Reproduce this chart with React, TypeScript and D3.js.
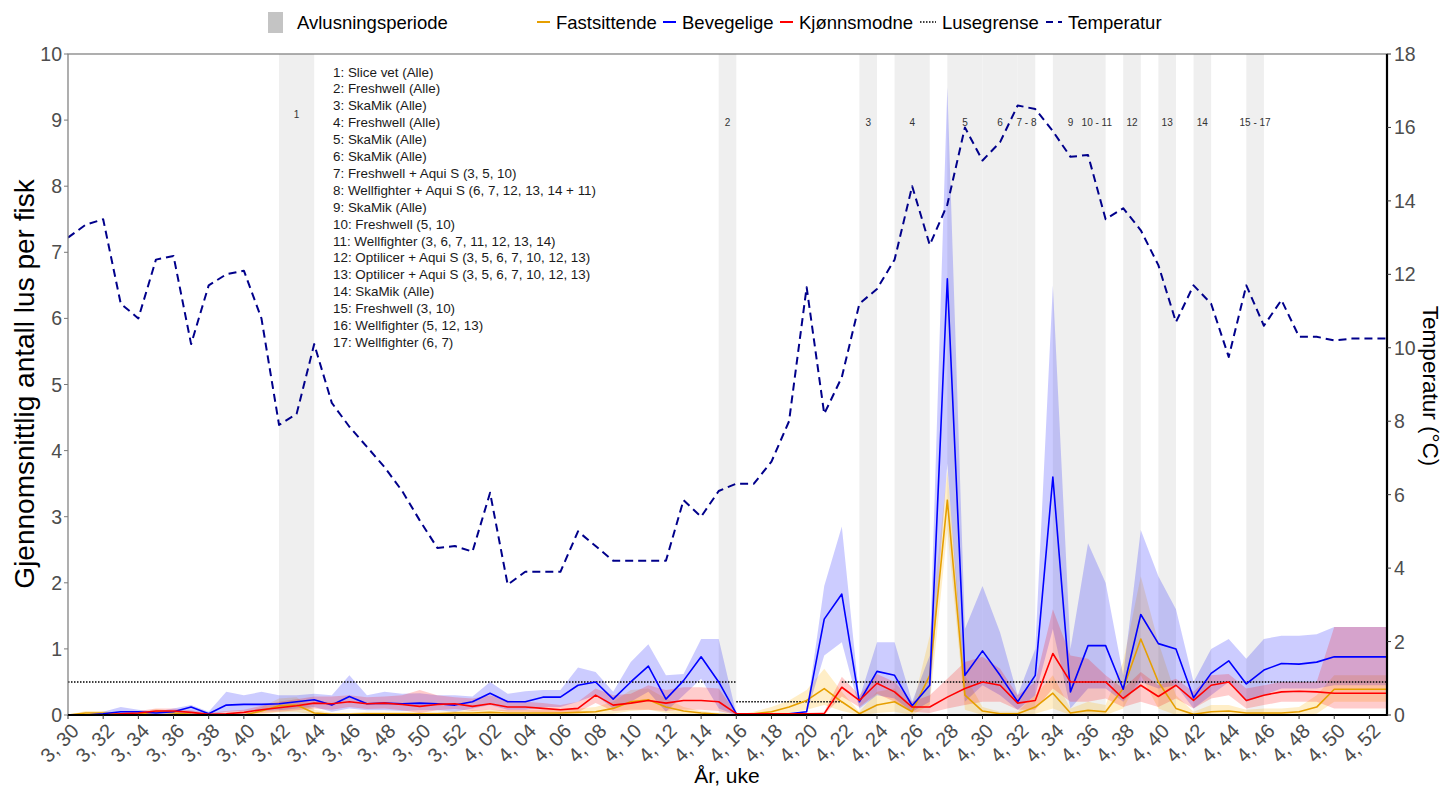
import React from "react";
import * as d3 from "d3";

// ---------- DATA ----------
const weeks: string[] = [
  "3, 30","3, 31","3, 32","3, 33","3, 34","3, 35","3, 36","3, 37","3, 38","3, 39","3, 40","3, 41","3, 42","3, 43","3, 44","3, 45","3, 46","3, 47","3, 48","3, 49","3, 50","3, 51","3, 52",
  "4, 01","4, 02","4, 03","4, 04","4, 05","4, 06","4, 07","4, 08","4, 09","4, 10","4, 11","4, 12","4, 13","4, 14","4, 15","4, 16","4, 17","4, 18","4, 19","4, 20","4, 21","4, 22","4, 23","4, 24","4, 25","4, 26",
  "4, 27","4, 28","4, 29","4, 30","4, 31","4, 32","4, 33","4, 34","4, 35","4, 36","4, 37","4, 38","4, 39","4, 40","4, 41","4, 42","4, 43","4, 44","4, 45","4, 46","4, 47","4, 48","4, 49","4, 50","4, 51","4, 52","5, 01"
];

const tickLabels: string[] = [
  "3, 30","3, 32","3, 34","3, 36","3, 38","3, 40","3, 42","3, 44","3, 46","3, 48","3, 50","3, 52",
  "4, 02","4, 04","4, 06","4, 08","4, 10","4, 12","4, 14","4, 16","4, 18","4, 20","4, 22","4, 24","4, 26",
  "4, 28","4, 30","4, 32","4, 34","4, 36","4, 38","4, 40","4, 42","4, 44","4, 46","4, 48","4, 50","4, 52"
];

const temperatur: number[] = [
  13.0, 13.35, 13.5, 11.2, 10.8, 12.4, 12.5, 10.1, 11.7, 12.0, 12.1, 10.8, 7.9, 8.2, 10.1, 8.5, 7.85, 7.3, 6.75, 6.1, 5.3, 4.55, 4.6,
  4.45, 6.05, 3.55, 3.9, 3.9, 3.9, 5.0, 4.6, 4.2, 4.2, 4.2, 4.2, 5.85, 5.4, 6.1, 6.3, 6.3, 6.9, 8.0, 11.65, 8.2, 9.2, 11.2, 11.6, 12.4,
  14.4, 12.8, 13.9, 16.0, 15.1, 15.6, 16.6, 16.5, 15.9, 15.2, 15.25, 13.5, 13.8, 13.2, 12.25, 10.7, 11.7, 11.2, 9.75, 11.7, 10.6, 11.3,
  10.3, 10.3, 10.2, 10.25, 10.25, 10.25
];

const bevegelige: number[] = [
  0, 0, 0.02, 0.05, 0.05, 0.03, 0.05, 0.12, 0.02, 0.15, 0.16, 0.16, 0.17, 0.2, 0.23, 0.15, 0.28, 0.17, 0.18, 0.17, 0.18, 0.17, 0.15,
  0.2, 0.33, 0.2, 0.2, 0.27, 0.27, 0.45, 0.5, 0.24, 0.5, 0.74, 0.24, 0.52, 0.88, 0.5, 0.02, 0.02, 0.02, 0.02, 0.05, 1.45, 1.83, 0.2,
  0.66, 0.6, 0.14, 0.45, 6.6, 0.6, 0.97, 0.6, 0.2, 0.6, 3.6, 0.35, 1.05, 1.05, 0.39, 1.52, 1.08, 1.0, 0.26, 0.63, 0.82, 0.47, 0.68,
  0.78, 0.77, 0.8, 0.88, 0.88, 0.88, 0.88
];
const bevegeligeHi: number[] = [
  0, 0.01, 0.05, 0.12, 0.08, 0.05, 0.1, 0.15, 0.05, 0.35, 0.3, 0.35, 0.3, 0.3, 0.32, 0.3, 0.6, 0.3, 0.35, 0.32, 0.33, 0.3, 0.3,
  0.28, 0.5, 0.32, 0.36, 0.38, 0.38, 0.72, 0.65, 0.35, 0.8, 1.07, 0.6, 0.62, 1.15, 1.15, 0.02, 0.02, 0.02, 0.02, 0.06, 1.95, 2.85, 0.25,
  1.1, 1.1, 0.2, 0.9, 9.5, 1.3, 1.95, 1.25, 0.3, 1.0, 6.5, 1.0, 2.6, 2.0, 0.6, 2.8, 2.1, 1.6, 0.5, 1.0, 1.15, 0.85, 1.15,
  1.2, 1.2, 1.22, 1.33, 1.33, 1.33, 1.33
];
const bevegeligeLo: number[] = [
  0, 0, 0, 0, 0, 0, 0, 0, 0, 0.05, 0.06, 0.06, 0.07, 0.1, 0.12, 0.05, 0.1, 0.07, 0.07, 0.06, 0.07, 0.07, 0.05,
  0.1, 0.15, 0.08, 0.08, 0.12, 0.12, 0.2, 0.3, 0.1, 0.2, 0.35, 0.05, 0.3, 0.55, 0.1, 0, 0, 0, 0, 0.02, 0.9, 1.1, 0.1,
  0.3, 0.25, 0.05, 0.2, 3.8, 0.2, 0.45, 0.3, 0.08, 0.3, 1.3, 0.1, 0.4, 0.4, 0.2, 0.5, 0.4, 0.45, 0.1, 0.3, 0.5, 0.2, 0.3,
  0.4, 0.4, 0.4, 0.45, 0.45, 0.45, 0.45
];

const kjonnsmodne: number[] = [
  0, 0, 0, 0.02, 0.03, 0.06, 0.06, 0.04, 0.01, 0.02, 0.04, 0.08, 0.11, 0.14, 0.18, 0.17, 0.2, 0.17, 0.18, 0.16, 0.13, 0.16, 0.17,
  0.13, 0.17, 0.12, 0.12, 0.1, 0.08, 0.1, 0.3, 0.15, 0.18, 0.22, 0.18, 0.22, 0.22, 0.2, 0.02, 0.02, 0.02, 0.02, 0.02, 0.02, 0.42, 0.22,
  0.48, 0.35, 0.12, 0.12, 0.27, 0.4, 0.5, 0.45, 0.18, 0.22, 0.93, 0.5, 0.5, 0.5, 0.25, 0.45, 0.28, 0.45, 0.22, 0.45, 0.5, 0.22, 0.3,
  0.35, 0.36, 0.35, 0.33, 0.33, 0.33, 0.33
];
const kjonnsmodneHi: number[] = [
  0, 0, 0, 0.04, 0.06, 0.1, 0.1, 0.07, 0.03, 0.06, 0.08, 0.14, 0.2, 0.24, 0.28, 0.28, 0.3, 0.27, 0.28, 0.3, 0.38, 0.3, 0.27,
  0.25, 0.3, 0.22, 0.2, 0.18, 0.15, 0.2, 0.4, 0.3, 0.32, 0.45, 0.38, 0.42, 0.42, 0.4, 0.03, 0.03, 0.03, 0.03, 0.03, 0.05, 0.58, 0.3,
  0.62, 0.5, 0.2, 0.3, 0.55, 0.8, 0.88, 0.7, 0.3, 0.5, 1.6, 0.9, 0.85, 0.6, 0.4, 0.65, 0.45, 0.55, 0.35, 0.6, 0.62, 0.4, 0.45,
  0.5, 0.5, 0.5, 1.33, 1.33, 1.33, 1.33
];
const kjonnsmodneLo: number[] = [
  0, 0, 0, 0, 0.01, 0.03, 0.03, 0.02, 0, 0, 0.01, 0.03, 0.05, 0.07, 0.1, 0.08, 0.12, 0.09, 0.1, 0.07, 0.03, 0.07, 0.09,
  0.06, 0.08, 0.05, 0.05, 0.04, 0.03, 0.04, 0.18, 0.06, 0.08, 0.08, 0.06, 0.08, 0.08, 0.06, 0, 0, 0, 0, 0, 0, 0.28, 0.12,
  0.32, 0.2, 0.05, 0.03, 0.1, 0.15, 0.2, 0.2, 0.08, 0.08, 0.4, 0.2, 0.2, 0.25, 0.12, 0.2, 0.12, 0.25, 0.1, 0.25, 0.3, 0.1, 0.15,
  0.2, 0.2, 0.2, 0.1, 0.1, 0.1, 0.1
];

const fastsittende: number[] = [
  0, 0.03, 0.03, 0.01, 0.01, 0.05, 0.03, 0.01, 0, 0, 0, 0.06, 0.14, 0.15, 0.03, 0.01, 0.01, 0.02, 0.02, 0.02, 0.02, 0.02, 0.03,
  0.03, 0.04, 0.03, 0.03, 0.03, 0.03, 0.04, 0.05, 0.1, 0.2, 0.23, 0.12, 0.06, 0.03, 0.01, 0, 0.02, 0.05, 0.12, 0.22, 0.4, 0.2, 0.02,
  0.15, 0.2, 0.05, 0.6, 3.25, 0.3, 0.06, 0.02, 0.02, 0.12, 0.33, 0.03, 0.07, 0.05, 0.4, 1.15, 0.5, 0.1, 0.01, 0.05, 0.06, 0.03, 0.03,
  0.03, 0.05, 0.12, 0.39, 0.39, 0.39, 0.39
];
const fastsittendeHi: number[] = [
  0, 0.06, 0.06, 0.03, 0.03, 0.09, 0.06, 0.02, 0.01, 0.01, 0.02, 0.12, 0.25, 0.27, 0.08, 0.03, 0.03, 0.05, 0.05, 0.05, 0.05, 0.05, 0.06,
  0.07, 0.08, 0.07, 0.07, 0.07, 0.08, 0.1, 0.12, 0.2, 0.38, 0.4, 0.25, 0.12, 0.06, 0.03, 0, 0.05, 0.12, 0.22, 0.38, 0.7, 0.35, 0.05,
  0.35, 0.4, 0.1, 1.2, 3.7, 0.6, 0.12, 0.05, 0.05, 0.3, 0.6, 0.1, 0.2, 0.15, 0.8, 2.1, 1.1, 0.3, 0.05, 0.15, 0.15, 0.08, 0.1,
  0.1, 0.12, 0.3, 0.6, 0.6, 0.6, 0.6
];
const fastsittendeLo: number[] = [
  0, 0, 0, 0, 0, 0.01, 0, 0, 0, 0, 0, 0.01, 0.04, 0.05, 0, 0, 0, 0, 0, 0, 0, 0, 0,
  0, 0, 0, 0, 0, 0, 0, 0, 0.02, 0.06, 0.08, 0.03, 0, 0, 0, 0, 0, 0, 0.03, 0.08, 0.15, 0.06, 0,
  0.03, 0.05, 0, 0.15, 2.8, 0.08, 0, 0, 0, 0.02, 0.1, 0, 0, 0, 0.1, 0.6, 0.1, 0, 0, 0, 0, 0, 0,
  0, 0, 0.02, 0.2, 0.2, 0.2, 0.2
];

const periodLabels: string[] = ["1", "2", "3", "4", "5", "6", "7 - 8", "9", "10 - 11", "12", "13", "14", "15 - 17"];
const periodStart: number[] = [12, 37, 45, 47, 50, 52, 54, 56, 58, 60, 62, 64, 67];
const periodEnd: number[] = [14, 38, 46, 49, 52, 54, 55, 58, 59, 61, 63, 65, 68];

const lusegrenseStart: number[] = [0, 38, 44];
const lusegrenseEnd: number[] = [38, 44, 75];
const lusegrenseValue: number[] = [0.5, 0.2, 0.5];

const treatmentNotes: string[] = [
  "1: Slice vet (Alle)",
  "2: Freshwell (Alle)",
  "3: SkaMik (Alle)",
  "4: Freshwell (Alle)",
  "5: SkaMik (Alle)",
  "6: SkaMik (Alle)",
  "7: Freshwell + Aqui S (3, 5, 10)",
  "8: Wellfighter + Aqui S (6, 7, 12, 13, 14 + 11)",
  "9: SkaMik (Alle)",
  "10: Freshwell (5, 10)",
  "11: Wellfighter (3, 6, 7, 11, 12, 13, 14)",
  "12: Optilicer + Aqui S (3, 5, 6, 7, 10, 12, 13)",
  "13: Optilicer + Aqui S (3, 5, 6, 7, 10, 12, 13)",
  "14: SkaMik (Alle)",
  "15: Freshwell (3, 10)",
  "16: Wellfighter (5, 12, 13)",
  "17: Wellfighter (6, 7)"
];

const leftTicks: number[] = [0, 1, 2, 3, 4, 5, 6, 7, 8, 9, 10];
const rightTicks: number[] = [0, 2, 4, 6, 8, 10, 12, 14, 16, 18];

// ---------- STYLE ----------
const FONT = "'Liberation Sans', Arial, sans-serif";
const C_BLUE = "#0000FF";
const C_RED = "#FF0000";
const C_ORANGE = "#E69F00";
const C_TEMP = "#00008B";
const C_AXIS_TXT = "#4D4D4D";

export default function App() {
  const L = 68, R = 1387, T = 54, B = 715;
  const x = d3.scaleLinear().domain([0, 75]).range([L, R]);
  const y = d3.scaleLinear().domain([0, 10]).range([B, T]);
  const yT = d3.scaleLinear().domain([0, 18]).range([B, T]);

  const lineGen = d3.line<number>().x((_, i) => x(i)).y((d) => y(d));
  const tempGen = d3.line<number>().x((_, i) => x(i)).y((d) => yT(d));
  const areaGen = (lo: number[]) =>
    d3.area<number>().x((_, i) => x(i)).y0((_, i) => y(lo[i])).y1((d) => y(d));

  const tickIdx = tickLabels.map((lab) => weeks.indexOf(lab));

  return (
    <svg width={1443} height={791} style={{ position: "absolute", left: 0, top: 0, background: "#fff" }} fontFamily={FONT}>
      <defs>
        <clipPath id="plotclip">
          <rect x={L} y={T} width={R - L} height={B - T} />
        </clipPath>
      </defs>

      {/* Legend */}
      <g fontSize={18.5} fill="#000">
        <rect x={268} y={12} width={15} height={21} fill="#C4C4C4" />
        <text x={297} y={29}>Avlusningsperiode</text>
        <line x1={537} x2={550} y1={22} y2={22} stroke={C_ORANGE} strokeWidth={2} />
        <text x={556} y={29}>Fastsittende</text>
        <line x1={663} x2={676} y1={22} y2={22} stroke={C_BLUE} strokeWidth={2} />
        <text x={682} y={29}>Bevegelige</text>
        <line x1={780} x2={793} y1={22} y2={22} stroke={C_RED} strokeWidth={2} />
        <text x={799} y={29}>Kjønnsmodne</text>
        <line x1={920} x2={936} y1={22} y2={22} stroke="#000" strokeWidth={1.3} strokeDasharray="1.5,1.5" />
        <text x={942} y={29}>Lusegrense</text>
        <line x1={1046} x2={1062} y1={22} y2={22} stroke={C_TEMP} strokeWidth={2} strokeDasharray="7,5" />
        <text x={1068} y={29}>Temperatur</text>
      </g>

      {/* Treatment periods */}
      <g clipPath="url(#plotclip)">
        {periodStart.map((s, k) => (
          <rect key={"p" + k} x={x(s)} y={T} width={x(periodEnd[k]) - x(s)} height={B - T} fill="#EFEFEF" />
        ))}
      </g>
      <g fontSize={10} fill="#333" textAnchor="middle">
        {periodLabels.map((lab, k) => (
          <text key={"pl" + k} x={x((periodStart[k] + periodEnd[k]) / 2)} y={k === 0 ? 118 : 126}>{lab}</text>
        ))}
      </g>

      {/* Treatment notes */}
      <g fontSize={13.4} fill="#1A1A1A">
        {treatmentNotes.map((t, k) => (
          <text key={"n" + k} x={333} y={76.5 + k * 16.9}>{t}</text>
        ))}
      </g>

      {/* Ribbons */}
      <g clipPath="url(#plotclip)">
        <path d={areaGen(fastsittendeLo)(fastsittendeHi) || ""} fill="#FFB000" fillOpacity={0.22} />
        <path d={areaGen(bevegeligeLo)(bevegeligeHi) || ""} fill={C_BLUE} fillOpacity={0.2} />
        <path d={areaGen(kjonnsmodneLo)(kjonnsmodneHi) || ""} fill={C_RED} fillOpacity={0.2} />
      </g>

      {/* Lusegrense */}
      {lusegrenseStart.map((s, k) => (
        <line key={"lg" + k} x1={x(s)} x2={x(lusegrenseEnd[k])} y1={y(lusegrenseValue[k])} y2={y(lusegrenseValue[k])}
          stroke="#000" strokeWidth={1.4} strokeDasharray="1.5,1.5" />
      ))}

      {/* Lines */}
      <g clipPath="url(#plotclip)" fill="none" strokeWidth={1.6} strokeLinejoin="round">
        <path d={lineGen(fastsittende) || ""} stroke={C_ORANGE} />
        <path d={lineGen(bevegelige) || ""} stroke={C_BLUE} />
        <path d={lineGen(kjonnsmodne) || ""} stroke={C_RED} />
        <path d={tempGen(temperatur) || ""} stroke={C_TEMP} strokeWidth={2} strokeDasharray="8,5" />
      </g>

      {/* Panel border + axes */}
      <rect x={L} y={T} width={R - L} height={B - T} fill="none" stroke="#7A7A7A" strokeWidth={1.2} />
      <line x1={L} x2={R + 1} y1={B} y2={B} stroke="#000" strokeWidth={2.2} />
      <line x1={R} x2={R} y1={T} y2={B + 1} stroke="#000" strokeWidth={2.2} />

      {/* Left axis */}
      <g fontSize={19.5} fill={C_AXIS_TXT} textAnchor="end">
        {leftTicks.map((v) => (
          <g key={"l" + v}>
            <line x1={L - 4} x2={L} y1={y(v)} y2={y(v)} stroke="#7A7A7A" strokeWidth={1} />
            <text x={L - 6} y={y(v)} dy="0.36em">{v}</text>
          </g>
        ))}
      </g>
      {/* Right axis */}
      <g fontSize={19.5} fill={C_AXIS_TXT} textAnchor="start">
        {rightTicks.map((v) => (
          <g key={"r" + v}>
            <line x1={R} x2={R + 4} y1={yT(v)} y2={yT(v)} stroke="#333" strokeWidth={1} />
            <text x={R + 7} y={yT(v)} dy="0.36em">{v}</text>
          </g>
        ))}
      </g>
      {/* Bottom axis */}
      <g fontSize={20} fill={C_AXIS_TXT} textAnchor="end">
        {tickIdx.map((i, k) => (
          <g key={"b" + k}>
            <line x1={x(i)} x2={x(i)} y1={B} y2={B + 4} stroke="#333" strokeWidth={1} />
            <text transform={`translate(${x(i) + 2},${B + 7}) rotate(-45)`} dominantBaseline="hanging">{tickLabels[k]}</text>
          </g>
        ))}
      </g>

      {/* Axis titles */}
      <text transform={`translate(34,384) rotate(-90)`} textAnchor="middle" fontSize={28} fill="#000">Gjennomsnittlig antall lus per fisk</text>
      <text transform={`translate(1423,386) rotate(90)`} textAnchor="middle" fontSize={22.5} fill="#000">Temperatur (°C)</text>
      <text x={727} y={783} textAnchor="middle" fontSize={21} fill="#000">År, uke</text>
    </svg>
  );
}
